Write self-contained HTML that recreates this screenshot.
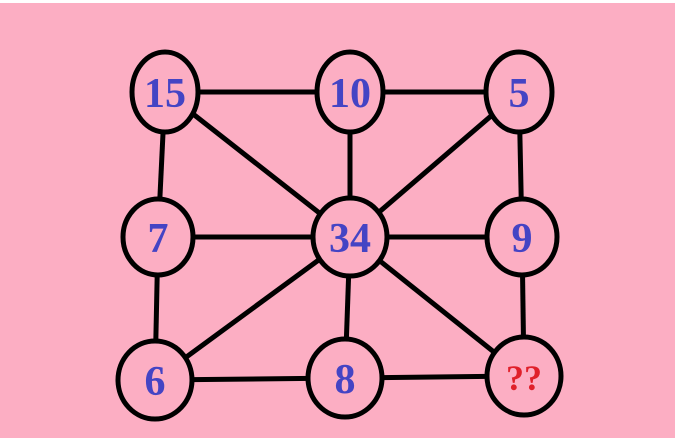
<!DOCTYPE html>
<html><head><style>body{margin:0;background:#fff}svg{display:block}</style></head><body>
<svg width="675" height="438" xmlns="http://www.w3.org/2000/svg">
<rect x="0" y="3" width="675" height="435" fill="#fcaec3"/>
<g stroke="#000" stroke-width="5">
<line x1="165" y1="92" x2="350" y2="92"/><line x1="350" y1="92" x2="519" y2="92"/>
<line x1="165" y1="92" x2="158" y2="237"/><line x1="165" y1="92" x2="350" y2="237"/>
<line x1="350" y1="92" x2="350" y2="237"/><line x1="519" y1="92" x2="350" y2="237"/>
<line x1="519" y1="92" x2="522" y2="237"/><line x1="158" y1="237" x2="350" y2="237"/>
<line x1="350" y1="237" x2="522" y2="237"/><line x1="158" y1="237" x2="155" y2="380"/>
<line x1="350" y1="237" x2="155" y2="380"/><line x1="350" y1="237" x2="345" y2="378"/>
<line x1="350" y1="237" x2="524" y2="376"/><line x1="522" y1="237" x2="524" y2="376"/>
<line x1="155" y1="380" x2="345" y2="378"/><line x1="345" y1="378" x2="524" y2="376"/>
</g>
<g fill="#fcaec3" stroke="#000" stroke-width="5">
<ellipse cx="165" cy="92" rx="33" ry="40"/><ellipse cx="350" cy="92" rx="33" ry="40"/><ellipse cx="519" cy="92" rx="33" ry="40"/>
<ellipse cx="158" cy="237" rx="35" ry="38"/><ellipse cx="350" cy="237" rx="37" ry="39"/><ellipse cx="522" cy="237" rx="35" ry="38"/>
<ellipse cx="155" cy="380" rx="37" ry="39"/><ellipse cx="345" cy="378" rx="37" ry="39"/><ellipse cx="524" cy="376" rx="37" ry="39"/>
</g>
<g font-family="Liberation Serif, serif" font-weight="bold" font-size="42" fill="#4444c4" text-anchor="middle">
<text x="165" y="107">15</text><text x="350" y="107">10</text><text x="519" y="107">5</text>
<text x="158" y="252">7</text><text x="350" y="252">34</text><text x="522" y="252">9</text>
<text x="155" y="395">6</text><text x="345" y="393">8</text>
<text x="524" y="390" font-size="36" fill="#e0202a">??</text>
</g>
</svg>
</body></html>
